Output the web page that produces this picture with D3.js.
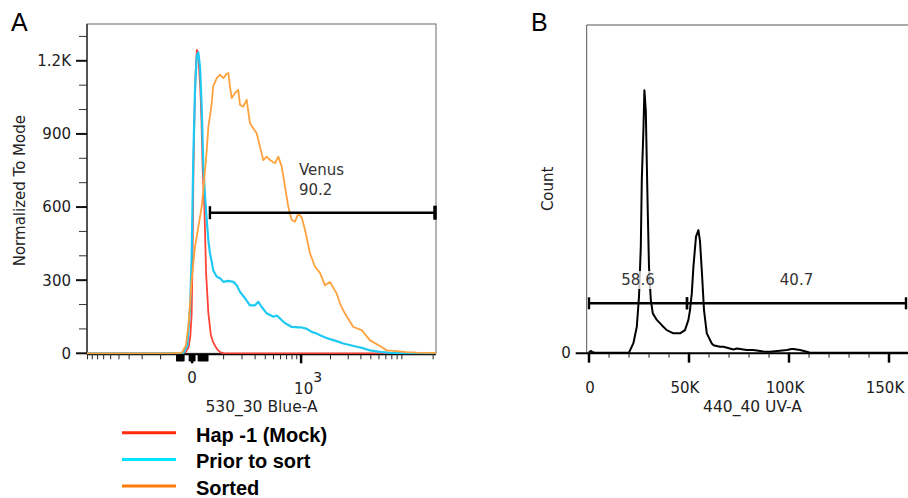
<!DOCTYPE html>
<html><head><meta charset="utf-8">
<script src="https://cdn.jsdelivr.net/npm/d3@7"></script>
<style>
body{margin:0;background:#fff}
svg{display:block}
text{font-family:"DejaVu Sans",Verdana,sans-serif}
</style>
</head><body>
<svg id="c" width="908" height="498"></svg>
<script>
// ---------- Panel A data (530_30 Blue-A, normalized to mode) ----------
const mockX = [-910, -30, -15, -8, -4, -1, 1, 3, 5, 8, 11, 14, 17, 20, 23, 26, 31, 36, 43, 51, 58, 66, 75, 85, 100, 21300];
const mockY = [0, 0, 5, 25, 70, 160, 400, 750, 950, 1150, 1245, 1235, 1160, 1080, 950, 760, 600, 330, 165, 75, 48, 30, 15, 5, 0, 0];

const priorX = [-910, -40, -20, -11, -4.5, -1, 2.7, 6.6, 10.6, 14.6, 19, 23.5, 28, 33, 38, 43, 48, 54, 59, 72, 85, 99, 122, 148, 167, 187, 220, 257, 299, 329, 362, 416, 497, 543, 592, 644, 700, 795, 870, 935, 1015, 1150, 1290, 1450, 1570, 1750, 1980, 2300, 2685, 3100, 3640, 4200, 4900, 6100, 7700, 9000, 10300, 21300];
const priorY = [0, 0, 3, 33, 190, 396, 807, 1081, 1218, 1235, 1175, 1012, 766, 642, 547, 464, 411, 375, 341, 314, 308, 293, 297, 293, 279, 252, 226, 197, 197, 211, 190, 164, 150, 155, 143, 129, 120, 108, 107, 106, 106, 100, 88, 81, 74, 66, 58, 50, 40, 34, 27, 21, 12, 6, 2, 1, 0, 0];

const sortedX = [-910, -60, -25, -14.5, -8, -1, 6.6, 14.6, 23.5, 28, 33, 38, 43, 48, 54, 59, 72, 85, 99, 114, 122, 130, 139, 157, 176, 187, 208, 232, 257, 284, 314, 345, 379, 416, 455, 520, 566, 618, 672, 730, 795, 862, 935, 1015, 1099, 1238, 1394, 1568, 1761, 1978, 2307, 2489, 2790, 3370, 4080, 4910, 6140, 7140, 8920, 11140, 13900, 19900, 21300];
const sortedY = [0, 0, 3, 33, 123, 300, 437, 519, 601, 670, 752, 834, 930, 971, 1026, 1095, 1129, 1143, 1129, 1147, 1150, 1095, 1047, 1067, 1081, 1019, 1012, 1040, 944, 923, 903, 848, 793, 807, 793, 780, 807, 766, 684, 601, 547, 540, 574, 558, 506, 410, 355, 330, 279, 293, 245, 204, 163, 108, 95, 53, 30, 12, 9, 5, 3, 2, 1];

const aYMajor = [0, 300, 600, 900, 1200];
const aYMajorLabels = ["0", "300", "600", "900", "1.2K"];
const aYMinor = [100, 200, 400, 500, 700, 800, 1000, 1100, 1300];
const aXMajor = [0, 1000];
const aXMinor = [-900, -800, -700, -600, -500, -400, -300, -200, -100, 100, 200, 300, 400, 500, 600, 700, 800, 900, 2000, 3000, 4000, 5000, 6000, 7000, 8000, 9000, 10000, 20000];
const aXNearZero = [-40, -38, -36, -34, -32, -30, -28, -26, -24, -22, -20, -6, -4, -2, 2, 4, 6, 15, 17, 19, 21, 23, 25, 27, 29, 31, 33, 35, 37, 39, 41];
const venusGate = [48, 21300];
const venusLabels = ["Venus", "90.2"];

const legendLabels = ["Hap -1 (Mock)", "Prior to sort", "Sorted"];
const legendColors = ["#ff2a0a", "#00e6ff", "#ff7b0b"];
const seriesColors = ["#ff4336", "#1ec9f3", "#ffa23e"];

// ---------- Panel B data (440_40 UV-A, count) ----------
const cycleX = [0, 0.5, 1, 1.5, 3, 20, 22.2, 23.9, 25, 25.9, 26.4, 27.2, 27.7, 28.4, 28.9, 29.4, 30, 30.9, 31.9, 33.9, 36.4, 38.9, 42.2, 45.5, 48, 49.7, 50.5, 51.4, 52.2, 53.5, 54.7, 55.5, 56.5, 57.5, 58.9, 59.7, 61.4, 62.2, 65.5, 67.2, 72.2, 73.9, 78.9, 82.2, 87.2, 90.5, 95.5, 98.9, 101.4, 102.2, 105.5, 108.9, 110.5, 159.5];
const cycleY = [0, 4, 5, 2, 0, 0, 29, 79, 171, 323, 527, 679, 801, 740, 579, 426, 262, 161, 120, 100, 84, 69, 59, 59, 69, 100, 130, 181, 262, 354, 374, 340, 240, 130, 59, 49, 28, 23, 18, 18, 10, 13, 8, 8, 4, 3, 6, 8, 11, 11, 8, 3, 0, 0];
const bXMajor = [0, 50, 100, 150];
const bXMajorLabels = ["0", "50K", "100K", "150K"];
const bXMinor = [10, 20, 30, 40, 60, 70, 80, 90, 110, 120, 130, 140];
const cycleGates = [[0, 49], [49, 158.5]];
const cycleGateLabels = ["58.6", "40.7"];

// ---------- drawing ----------
const svg = d3.select("#c");
const TXT = "#222";

// Panel A
const A = {l: 87, r: 436, t: 24, b: 353.3};
const xA = d3.scaleSymlog().constant(100).domain([-910, 21300]).range([A.l, A.r]);
const yA = d3.scaleLinear().domain([0, 1351]).range([A.b, A.t]);

svg.append("defs").append("clipPath").attr("id", "clipA")
  .append("rect").attr("x", A.l).attr("y", A.t).attr("width", A.r - A.l).attr("height", A.b - A.t + 1);

svg.append("rect").attr("x", A.l).attr("y", A.t).attr("width", A.r - A.l).attr("height", A.b - A.t)
  .attr("fill", "none").attr("stroke", "#6a6a6a").attr("stroke-width", 1);
svg.append("line").attr("x1", A.l).attr("x2", A.l).attr("y1", A.t).attr("y2", A.b + 1)
  .attr("stroke", "#333").attr("stroke-width", 1.5);
svg.append("line").attr("x1", A.l).attr("x2", A.r).attr("y1", A.b + 1).attr("y2", A.b + 1)
  .attr("stroke", "#000").attr("stroke-width", 2);

// y ticks
svg.selectAll(".ayMaj").data(aYMajor).enter().append("line")
  .attr("x1", A.l - 11).attr("x2", A.l).attr("y1", d => yA(d)).attr("y2", d => yA(d))
  .attr("stroke", "#111").attr("stroke-width", 2);
svg.selectAll(".ayMin").data(aYMinor).enter().append("line")
  .attr("x1", A.l - 8).attr("x2", A.l).attr("y1", d => yA(d)).attr("y2", d => yA(d))
  .attr("stroke", "#333").attr("stroke-width", 1);
svg.selectAll(".ayLab").data(aYMajor).enter().append("text")
  .attr("x", A.l - 16).attr("y", d => yA(d)).attr("dy", "0.36em")
  .attr("text-anchor", "end").attr("font-size", 15).attr("fill", TXT)
  .text((d, i) => aYMajorLabels[i]);

// x ticks
const axY = A.b + 1;
svg.selectAll(".axMin").data(aXMinor).enter().append("line")
  .attr("x1", d => xA(d)).attr("x2", d => xA(d)).attr("y1", axY).attr("y2", axY + 5)
  .attr("stroke", "#222").attr("stroke-width", 1);
svg.selectAll(".axNZ").data(aXNearZero).enter().append("line")
  .attr("x1", d => xA(d)).attr("x2", d => xA(d)).attr("y1", axY).attr("y2", axY + 7)
  .attr("stroke", "#000").attr("stroke-width", 1.6);
svg.selectAll(".axMaj").data(aXMajor).enter().append("line")
  .attr("x1", d => xA(d)).attr("x2", d => xA(d)).attr("y1", axY).attr("y2", axY + 9)
  .attr("stroke", "#000").attr("stroke-width", 2.5);
svg.append("text").attr("x", xA(aXMajor[0])).attr("y", 383).attr("text-anchor", "middle")
  .attr("font-size", 15).attr("fill", TXT).text("0");
const t3 = svg.append("text").attr("x", xA(aXMajor[1]) - 7).attr("y", 394)
  .attr("font-size", 15).attr("fill", TXT);
t3.append("tspan").text("10");
t3.append("tspan").attr("dy", -12).attr("font-size", 14).text("3");
svg.append("text").attr("x", (A.l + A.r) / 2).attr("y", 412).attr("text-anchor", "middle")
  .attr("font-size", 15.5).attr("fill", TXT).text("530_30 Blue-A");
svg.append("text").attr("transform", `translate(25,${(A.t + A.b) / 2 + 2}) rotate(-90)`)
  .attr("text-anchor", "middle").attr("font-size", 15).attr("fill", TXT).text("Normalized To Mode");

// curves
const seriesA = [
  {x: mockX, y: mockY, c: seriesColors[0], w: 1.8},
  {x: priorX, y: priorY, c: seriesColors[1], w: 2.2},
  {x: sortedX, y: sortedY, c: seriesColors[2], w: 1.8}
];
const lineA = d3.line().x(d => xA(d[0])).y(d => yA(d[1]));
const gA = svg.append("g").attr("clip-path", "url(#clipA)");
seriesA.forEach(s => {
  gA.append("path").datum(d3.zip(s.x, s.y)).attr("d", lineA)
    .attr("fill", "none").attr("stroke", s.c).attr("stroke-width", s.w).attr("stroke-linejoin", "round");
});

// Venus gate
const gateYA = 212.7;
const gx0 = xA(venusGate[0]), gx1 = xA(venusGate[1]);
svg.append("line").attr("x1", gx0).attr("x2", gx1).attr("y1", gateYA).attr("y2", gateYA)
  .attr("stroke", "#000").attr("stroke-width", 2.6);
svg.append("line").attr("x1", gx0).attr("x2", gx0).attr("y1", gateYA - 6.5).attr("y2", gateYA + 6.5)
  .attr("stroke", "#000").attr("stroke-width", 2.4);
svg.append("line").attr("x1", gx1 - 1).attr("x2", gx1 - 1).attr("y1", gateYA - 7).attr("y2", gateYA + 7)
  .attr("stroke", "#000").attr("stroke-width", 3.5);
svg.selectAll(".vlab").data(venusLabels).enter().append("text")
  .attr("x", (gx0 + gx1) / 2 - 24).attr("y", (d, i) => 175 + i * 20)
  .attr("font-size", 15).attr("fill", "#333").text(d => d);

// legend
legendLabels.forEach((lab, i) => {
  const yy = 432.7 + i * 26.7;
  svg.append("line").attr("x1", 122).attr("x2", 176).attr("y1", yy).attr("y2", yy)
    .attr("stroke", legendColors[i]).attr("stroke-width", 3);
  svg.append("text").attr("x", 196).attr("y", yy + 9)
    .style("font-family", "'Liberation Sans', Arial, sans-serif")
    .attr("font-weight", "bold").attr("font-size", 20).attr("fill", "#000").text(lab);
});

// panel letters
svg.append("text").attr("x", 11).attr("y", 31).style("font-family", "'Liberation Sans', Arial, sans-serif")
  .attr("font-size", 25).attr("fill", "#000").text("A");
svg.append("text").attr("x", 531).attr("y", 31).style("font-family", "'Liberation Sans', Arial, sans-serif")
  .attr("font-size", 25).attr("fill", "#000").text("B");

// Panel B
const B = {l: 586.7, r: 908, t: 25, b: 352.7};
const xB = d3.scaleLinear().domain([-1.15, 159.5]).range([B.l, B.r]);
const yB = d3.scaleLinear().domain([0, 1000]).range([B.b, B.t]);

svg.append("line").attr("x1", B.l).attr("x2", B.l).attr("y1", B.t).attr("y2", B.b)
  .attr("stroke", "#555").attr("stroke-width", 1);
svg.append("line").attr("x1", B.l).attr("x2", B.r).attr("y1", B.t).attr("y2", B.t)
  .attr("stroke", "#555").attr("stroke-width", 1);
svg.append("line").attr("x1", B.l - 11).attr("x2", B.r).attr("y1", B.b + 0.6).attr("y2", B.b + 0.6)
  .attr("stroke", "#000").attr("stroke-width", 2);
svg.append("text").attr("x", B.l - 16).attr("y", yB(0)).attr("dy", "0.36em").attr("text-anchor", "end")
  .attr("font-size", 15).attr("fill", TXT).text("0");

svg.selectAll(".bxMin").data(bXMinor).enter().append("line")
  .attr("x1", d => xB(d)).attr("x2", d => xB(d)).attr("y1", B.b).attr("y2", B.b + 5)
  .attr("stroke", "#222").attr("stroke-width", 1);
svg.selectAll(".bxMaj").data(bXMajor).enter().append("line")
  .attr("x1", d => xB(d)).attr("x2", d => xB(d)).attr("y1", B.b).attr("y2", B.b + 10)
  .attr("stroke", "#000").attr("stroke-width", 2.5);
svg.selectAll(".bxLab").data(bXMajor).enter().append("text")
  .attr("x", d => xB(d)).attr("dx", (d, i) => bXMajorLabels[i].length > 1 ? -4 : 1).attr("y", 393)
  .attr("text-anchor", "middle").attr("font-size", 15).attr("fill", TXT)
  .text((d, i) => bXMajorLabels[i]);
svg.append("text").attr("x", 752.5).attr("y", 412).attr("text-anchor", "middle")
  .attr("font-size", 15.5).attr("fill", TXT).text("440_40 UV-A");
svg.append("text").attr("transform", `translate(553,${(B.t + B.b) / 2}) rotate(-90)`)
  .attr("text-anchor", "middle").attr("font-size", 15).attr("fill", TXT).text("Count");

const lineB = d3.line().x(d => xB(d[0])).y(d => yB(d[1]));
svg.append("path").datum(d3.zip(cycleX, cycleY)).attr("d", lineB)
  .attr("fill", "none").attr("stroke", "#000").attr("stroke-width", 2).attr("stroke-linejoin", "round");

// gates B
const gateYB = 303.3;
cycleGates.forEach((g, i) => {
  const a = xB(g[0]), b = xB(g[1]);
  svg.append("line").attr("x1", a).attr("x2", b).attr("y1", gateYB).attr("y2", gateYB)
    .attr("stroke", "#000").attr("stroke-width", 2.6);
  [a, b].forEach(px => {
    svg.append("line").attr("x1", px).attr("x2", px).attr("y1", gateYB - 6).attr("y2", gateYB + 6)
      .attr("stroke", "#000").attr("stroke-width", 2.4);
  });
  const mid = (a + b) / 2;
  const t = svg.append("text").attr("x", mid).attr("y", 285).attr("text-anchor", "middle")
    .attr("font-size", 15).attr("fill", "#333").text(cycleGateLabels[i]);
  const bb = t.node().getBBox();
  svg.insert("rect", () => t.node()).attr("x", bb.x - 1).attr("y", bb.y).attr("width", bb.width + 2).attr("height", bb.height)
    .attr("fill", "#fff").attr("opacity", 0.75);
});
</script>
</body></html>
